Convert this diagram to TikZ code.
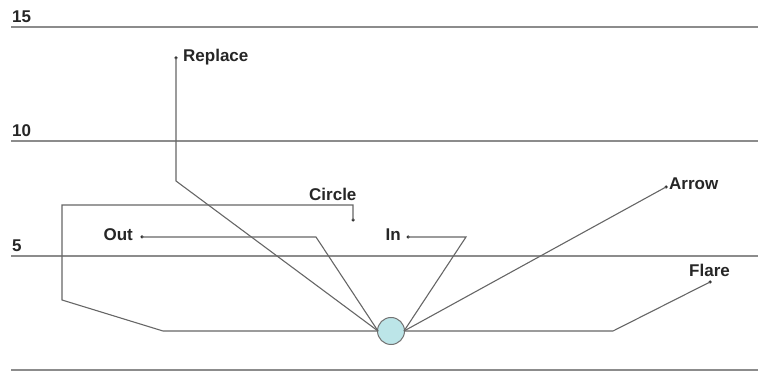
\documentclass[tikz,border=0pt]{standalone}
\usepackage{fontspec}
\setmainfont{Liberation Sans}
\definecolor{ballfill}{HTML}{BCE5E8}
\begin{document}
\begin{tikzpicture}[x=1pt,y=-1pt,
  grid/.style={draw=black!45,line width=1.8pt},
  conn/.style={draw=black!60,line width=1.1pt},
  lbl/.style={font=\bfseries\fontsize{17}{17}\selectfont,text=black!85,inner sep=0pt},
  dotend/.style={circle,fill=black!80,inner sep=0pt,minimum size=3.5pt}]
\useasboundingbox (0,0) rectangle (758,371);
% horizontal scale lines
\coordinate (g15a) at (11,27); \coordinate (g15b) at (758,27);
\coordinate (g10a) at (11,141); \coordinate (g10b) at (758,141);
\coordinate (g5a) at (11,256); \coordinate (g5b) at (758,256);
\coordinate (g0a) at (11,370); \coordinate (g0b) at (758,370);
\draw[grid] (g15a) -- (g15b);
\draw[grid] (g10a) -- (g10b);
\draw[grid] (g5a) -- (g5b);
\draw[grid] (g0a) -- (g0b);
\node[lbl,anchor=base west] (t15) at (12,23) {15};
\node[lbl,anchor=base west] (t10) at (12,137) {10};
\node[lbl,anchor=base west] (t5) at (12,252) {5};
% ball
\node[circle,draw=black!55,fill=ballfill,line width=1pt,minimum size=27pt,inner sep=0pt] (ball) at (391,331) {};
\coordinate (L) at (378,331);
\coordinate (R) at (404,331);
% end points
\node[dotend] (dRep) at (176,58) {};
\node[dotend] (dOut) at (142,237) {};
\node[dotend] (dCir) at (353,220) {};
\node[dotend] (dIn) at (408,237) {};
\node[dotend] (dArr) at (666,187) {};
\node[dotend] (dFla) at (710,282) {};
% labels
\node[lbl,anchor=base west] (tRep) at (183,62) {Replace};
\node[lbl,anchor=base east] (tOut) at (133,241) {Out};
\node[lbl,anchor=base west] (tCir) at (309,201) {Circle};
\node[lbl,anchor=base east] (tIn) at (401,241) {In};
\node[lbl,anchor=base west] (tArr) at (669,190) {Arrow};
\node[lbl,anchor=base west] (tFla) at (689,277) {Flare};
% connectors
\draw[conn] (L) -- (176,181) -- (dRep.center);
\draw[conn] (L) -- (316,237) -- (dOut.center);
\draw[conn] (L) -- (163,331) -- (62,300) -- (62,205) -- (353,205) -- (dCir.center);
\draw[conn] (R) -- (466,237) -- (dIn.center);
\draw[conn] (R) -- (dArr.center);
\draw[conn] (R) -- (613,331) -- (dFla.center);
\end{tikzpicture}
\end{document}
